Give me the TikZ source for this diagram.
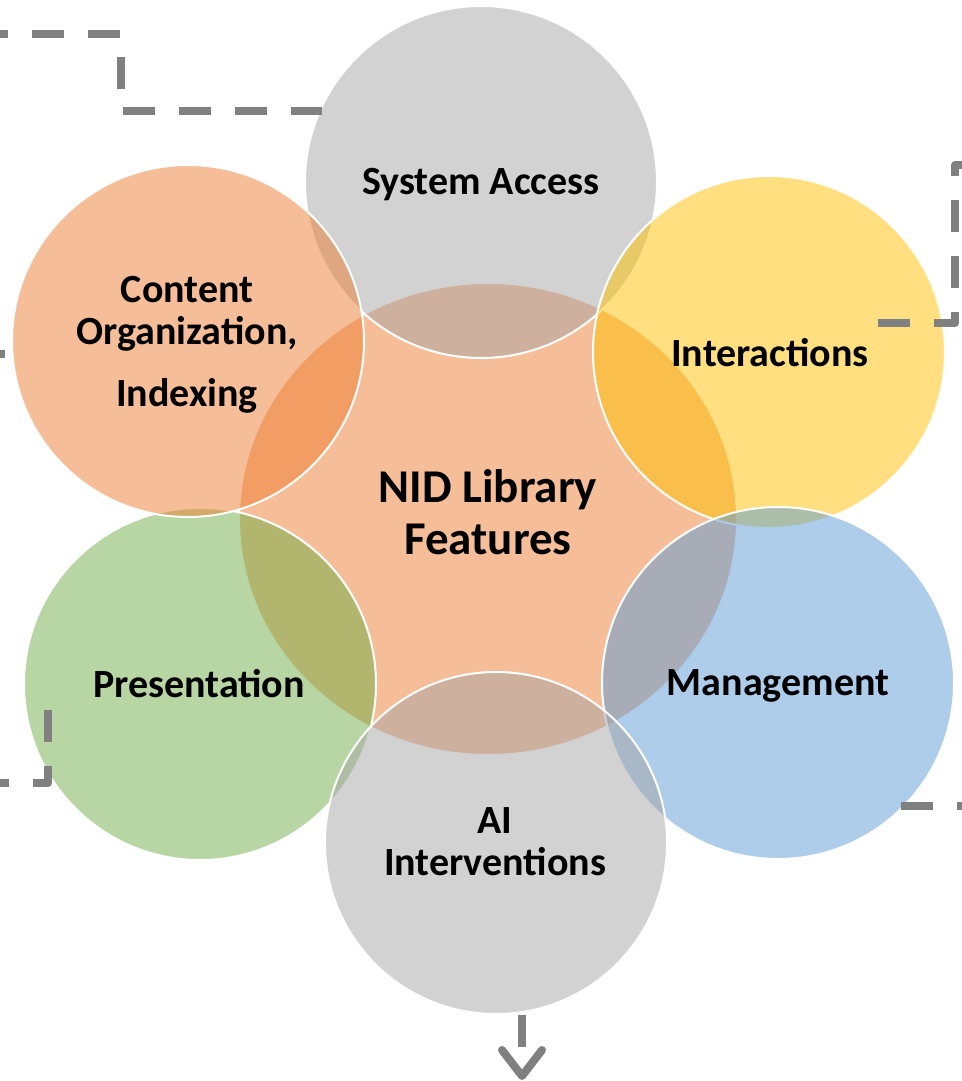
\documentclass[tikz,border=0pt]{standalone}
\usepackage{fontspec}
\setmainfont{Carlito}
\usetikzlibrary{arrows.meta, shapes.geometric}
\definecolor{featorange}{HTML}{ED7D31}
\definecolor{featgray}{HTML}{A5A5A5}
\definecolor{featgold}{HTML}{FFC000}
\definecolor{featblue}{HTML}{5B9BD5}
\definecolor{featgreen}{HTML}{70AD47}
\definecolor{guidegray}{HTML}{808080}
\tikzset{
    featurecircle/.style={circle, draw=white, line width=2pt, fill opacity=.5,
        inner sep=0pt, minimum size=352pt},
    featurelabel/.style={font=\fontsize{40}{42}\selectfont\bfseries,
        align=center, text=black, inner sep=0pt},
    guideline/.style={draw=guidegray, line width=8pt,
        dash pattern=on 32pt off 24pt, line join=round},
}

\begin{document}
\begin{tikzpicture}[x=1pt, y=-1pt]
    \useasboundingbox (0,0) rectangle (961,1081);
    % the hub
    \node[ellipse, draw=white, line width=2pt, fill=featorange, fill opacity=.5,
        inner sep=0pt, minimum width=498pt, minimum height=472pt] (hub) at (488,519) {};
    % the six features
    \node[featurecircle, fill=featgray] (sysaccess) at (481,182) {};
    \node[featurecircle, fill=featgold] (interact) at (769,352) {};
    \node[featurecircle, fill=featblue] (manage) at (778,683) {};
    \node[featurecircle, fill=featgreen] (present) at (200,684) {};
    \node[featurecircle, fill=featorange] (content) at (188,341) {};
    \node[featurecircle, fill=featgray, minimum size=342pt] (aiint) at (496,843) {};
    % labels
    \node[featurelabel, font=\fontsize{47}{52}\selectfont\bfseries] (hubtext)
        at (488,512) {NID Library\\Features};
    \node[featurelabel] (sysaccesstext) at (481,185) {System Access};
    \node[featurelabel] (interacttext) at (770,353) {Interactions};
    \node[featurelabel] (managetext) at (778,686) {Management};
    \node[featurelabel] (presenttext) at (199,684) {Presentation};
    \node[featurelabel] (contenttext) at (187,345) {Content\\Organization,\\[20pt]Indexing};
    \node[featurelabel] (aiinttext) at (495,842) {AI\\Interventions};
    % dashed guides
    \coordinate (tlstart) at (-24,34);
    \coordinate (tlend) at (322,111);
    \draw[guideline] (tlstart) -- (121,34) -- (121,111) -- (tlend);
    \coordinate (rstart) at (878,323);
    \coordinate (rend) at (995,165);
    \draw[guideline] (rstart) -- (955,323) -- (955,165) -- (rend);
    \coordinate (lstart) at (-27,354);
    \coordinate (lend) at (5,354);
    \draw[guideline] (lstart) -- (lend);
    \coordinate (blstart) at (48,710);
    \coordinate (blend) at (-30,783);
    \draw[guideline] (blstart) -- (48,783) -- (blend);
    \coordinate (brstart) at (901,806);
    \coordinate (brend) at (995,806);
    \draw[guideline] (brstart) -- (brend);
    \coordinate (arrowtop) at (aiint.south -| 522,0);
    \coordinate (arrowend) at (522,1080);
    \draw[guideline, -{Straight Barb[length=26pt, width=40pt, round]}]
        (arrowtop) -- (arrowend);
\end{tikzpicture}
\end{document}
